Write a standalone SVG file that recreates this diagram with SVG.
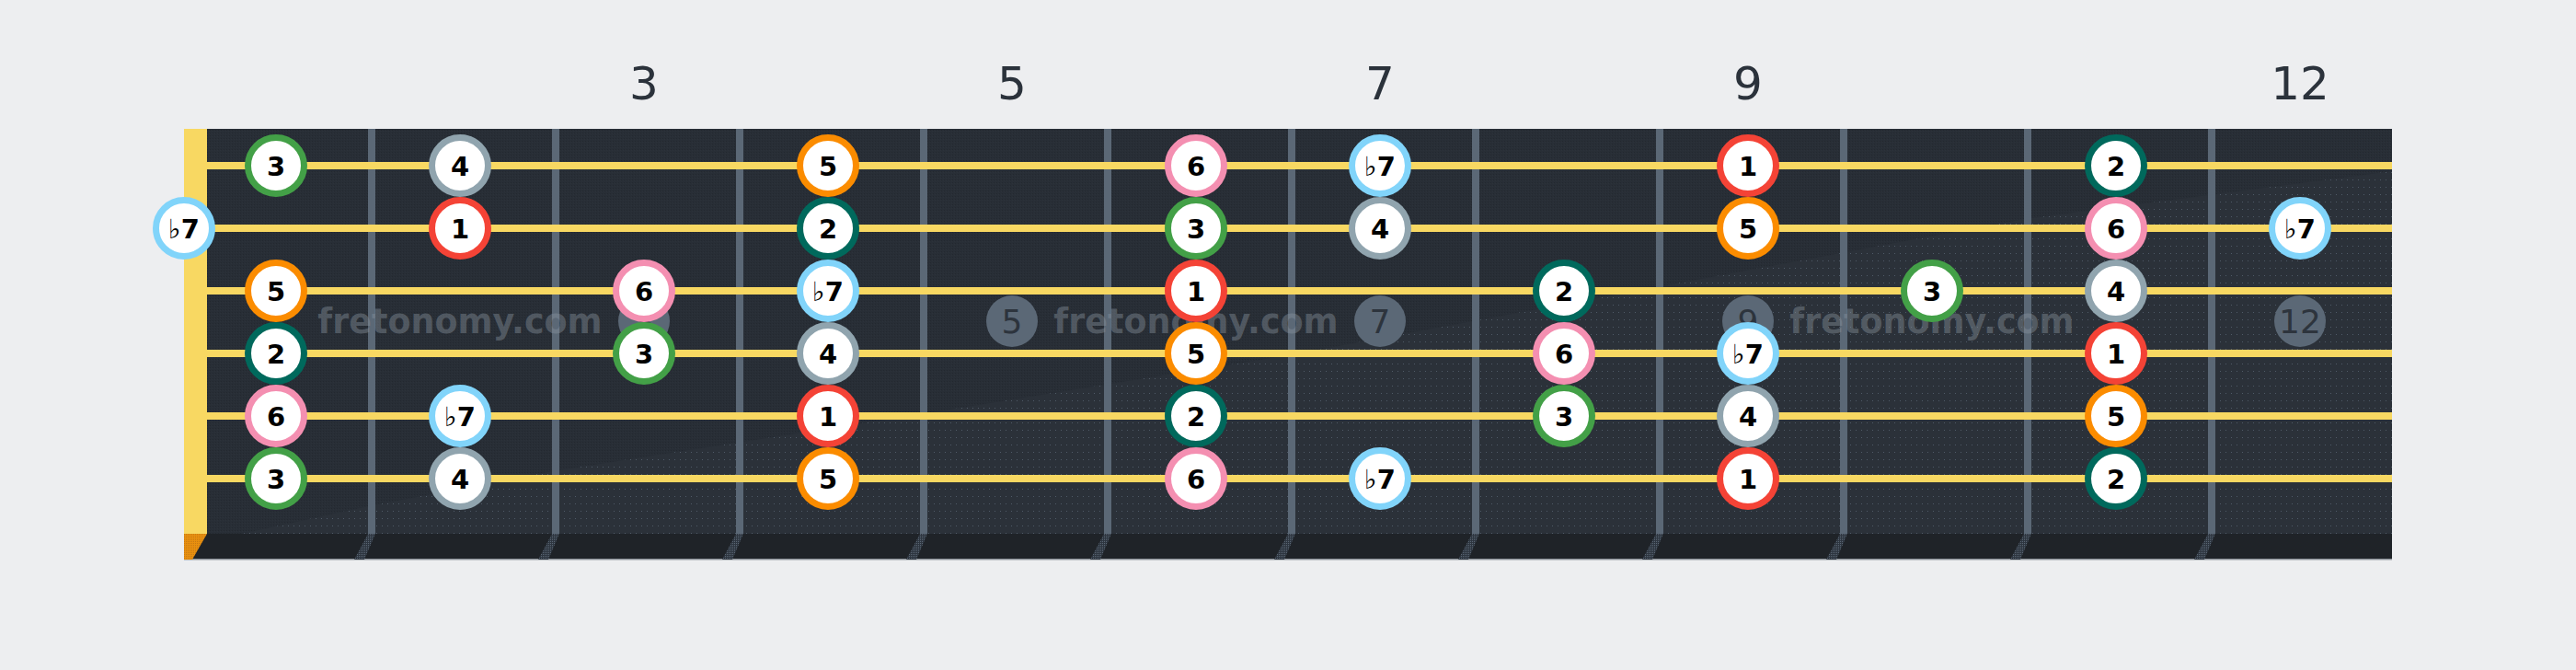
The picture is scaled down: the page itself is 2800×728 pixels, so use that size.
<svg xmlns="http://www.w3.org/2000/svg" width="2800" height="728" viewBox="0 0 2800 728">
<style>
.bg{fill:#edeef0}
.board{fill:#282e36}
.light{fill:#2b3139}
.fret{fill:#5b6876}
.str{fill:#f8d862}
.nut{fill:#f8d862}
.band{fill:#1f2328}
.fnum{font-family:"DejaVu Sans","Liberation Sans",sans-serif;font-size:50px;fill:#2b323b;text-anchor:middle}
.inlay{fill:#5b6876}
.inum{font-family:"DejaVu Sans","Liberation Sans",sans-serif;font-size:36px;fill:#2d343d;text-anchor:middle}
.wm{font-family:"DejaVu Sans","Liberation Sans",sans-serif;font-size:36.5px;font-weight:bold;fill:#8c96a0;fill-opacity:0.42;text-anchor:middle}
.n circle{fill:#ffffff;stroke-width:7}
.n text{font-family:"DejaVu Sans","Liberation Sans",sans-serif;font-size:29px;font-weight:bold;fill:#000;text-anchor:middle}
.n text tspan.fl{font-weight:normal}
.i1 circle{stroke:#f44336}
.i2 circle{stroke:#00695c}
.i3 circle{stroke:#43a047}
.i4 circle{stroke:#90a4ae}
.i5 circle{stroke:#fb8c00}
.i6 circle{stroke:#f48fb1}
.i7 circle{stroke:#81d4fa}
</style>
<defs>
<pattern id="dense" width="3" height="3" patternUnits="userSpaceOnUse"><rect x="0" y="0" width="1" height="1" fill="#1c2026"/><rect x="2" y="1" width="1" height="1" fill="#30363e"/></pattern>
<pattern id="sparse" width="6" height="8" patternUnits="userSpaceOnUse"><rect x="1" y="3" width="1" height="1" fill="#4f5a67"/></pattern>
<pattern id="slantdots" width="2" height="2" patternUnits="userSpaceOnUse"><rect width="2" height="2" fill="#2e3640"/><rect width="1" height="1" fill="#5a6674"/></pattern>
<pattern id="orangedots" width="2" height="2" patternUnits="userSpaceOnUse"><rect width="2" height="2" fill="#e8900f"/><rect width="1" height="1" fill="#c97a12"/></pattern>
</defs>
<rect class="bg" x="0" y="0" width="2800" height="728"/>
<g id="fretboard">
<rect class="board" x="200" y="140" width="2400" height="440"/>
<rect x="200" y="140" width="2400" height="440" fill="url(#dense)" opacity="0.45"/>
<path class="light" d="M225,588 L400,550 L600,512 L1000,450 L1200,418 L1400,386 L1800,312 L2200,238 L2600,186 L2600,580 L225,580 Z"/>
<path fill="url(#sparse)" d="M225,588 L400,550 L600,512 L1000,450 L1200,418 L1400,386 L1800,312 L2200,238 L2600,186 L2600,580 L225,580 Z"/>
<rect class="band" x="200" y="580" width="2400" height="28"/>
<rect x="200" y="607" width="2400" height="1.5" fill="#8f959c"/>
<polygon fill="url(#orangedots)" points="200,580 225,580 209,608 200,608"/>
<rect class="nut" x="200" y="140" width="25" height="440"/>
</g>
<g id="fret-numbers">
<text class="fnum" x="700" y="108">3</text>
<text class="fnum" x="1100" y="108">5</text>
<text class="fnum" x="1500" y="108">7</text>
<text class="fnum" x="1900" y="108">9</text>
<text class="fnum" x="2500" y="108">12</text>
</g>
<g id="inlays">
<circle class="inlay" cx="700" cy="349" r="28"/>
<text class="inum" x="700" y="362">3</text>
<circle class="inlay" cx="1100" cy="349" r="28"/>
<text class="inum" x="1100" y="362">5</text>
<circle class="inlay" cx="1500" cy="349" r="28"/>
<text class="inum" x="1500" y="362">7</text>
<circle class="inlay" cx="1900" cy="349" r="28"/>
<text class="inum" x="1900" y="362">9</text>
<circle class="inlay" cx="2500" cy="349" r="28"/>
<text class="inum" x="2500" y="362">12</text>
</g>
<g id="frets">
<rect class="fret" x="400" y="140" width="8" height="440"/>
<rect class="fret" x="600" y="140" width="8" height="440"/>
<rect class="fret" x="800" y="140" width="8" height="440"/>
<rect class="fret" x="1000" y="140" width="8" height="440"/>
<rect class="fret" x="1200" y="140" width="8" height="440"/>
<rect class="fret" x="1400" y="140" width="8" height="440"/>
<rect class="fret" x="1600" y="140" width="8" height="440"/>
<rect class="fret" x="1800" y="140" width="8" height="440"/>
<rect class="fret" x="2000" y="140" width="8" height="440"/>
<rect class="fret" x="2200" y="140" width="8" height="440"/>
<rect class="fret" x="2400" y="140" width="8" height="440"/>
<polygon fill="url(#slantdots)" points="400,580 408,580 396,608 385,608"/>
<polygon fill="url(#slantdots)" points="600,580 608,580 596,608 585,608"/>
<polygon fill="url(#slantdots)" points="800,580 808,580 796,608 785,608"/>
<polygon fill="url(#slantdots)" points="1000,580 1008,580 996,608 985,608"/>
<polygon fill="url(#slantdots)" points="1200,580 1208,580 1196,608 1185,608"/>
<polygon fill="url(#slantdots)" points="1400,580 1408,580 1396,608 1385,608"/>
<polygon fill="url(#slantdots)" points="1600,580 1608,580 1596,608 1585,608"/>
<polygon fill="url(#slantdots)" points="1800,580 1808,580 1796,608 1785,608"/>
<polygon fill="url(#slantdots)" points="2000,580 2008,580 1996,608 1985,608"/>
<polygon fill="url(#slantdots)" points="2200,580 2208,580 2196,608 2185,608"/>
<polygon fill="url(#slantdots)" points="2400,580 2408,580 2396,608 2385,608"/>
</g>
<g id="watermarks">
<text class="wm" x="500" y="362">fretonomy.com</text>
<text class="wm" x="1300" y="362">fretonomy.com</text>
<text class="wm" x="2100" y="362">fretonomy.com</text>
</g>
<g id="strings">
<rect class="str" x="225" y="176" width="2375" height="8"/>
<rect class="str" x="225" y="244" width="2375" height="8"/>
<rect class="str" x="225" y="312" width="2375" height="8"/>
<rect class="str" x="225" y="380" width="2375" height="8"/>
<rect class="str" x="225" y="448" width="2375" height="8"/>
<rect class="str" x="225" y="516" width="2375" height="8"/>
</g>
<g id="notes">
<g id="s1f1" class="n i3"><circle cx="300" cy="180" r="30.5"/><text x="300" y="190.5">3</text></g>
<g id="s1f2" class="n i4"><circle cx="500" cy="180" r="30.5"/><text x="500" y="190.5">4</text></g>
<g id="s1f4" class="n i5"><circle cx="900" cy="180" r="30.5"/><text x="900" y="190.5">5</text></g>
<g id="s1f6" class="n i6"><circle cx="1300" cy="180" r="30.5"/><text x="1300" y="190.5">6</text></g>
<g id="s1f7" class="n i7"><circle cx="1500" cy="180" r="30.5"/><text x="1500" y="190.5"><tspan class="fl">♭</tspan>7</text></g>
<g id="s1f9" class="n i1"><circle cx="1900" cy="180" r="30.5"/><text x="1900" y="190.5">1</text></g>
<g id="s1f11" class="n i2"><circle cx="2300" cy="180" r="30.5"/><text x="2300" y="190.5">2</text></g>

<g id="s2f0" class="n i7"><circle cx="200" cy="248" r="30.5"/><text x="200" y="258.5"><tspan class="fl">♭</tspan>7</text></g>
<g id="s2f2" class="n i1"><circle cx="500" cy="248" r="30.5"/><text x="500" y="258.5">1</text></g>
<g id="s2f4" class="n i2"><circle cx="900" cy="248" r="30.5"/><text x="900" y="258.5">2</text></g>
<g id="s2f6" class="n i3"><circle cx="1300" cy="248" r="30.5"/><text x="1300" y="258.5">3</text></g>
<g id="s2f7" class="n i4"><circle cx="1500" cy="248" r="30.5"/><text x="1500" y="258.5">4</text></g>
<g id="s2f9" class="n i5"><circle cx="1900" cy="248" r="30.5"/><text x="1900" y="258.5">5</text></g>
<g id="s2f11" class="n i6"><circle cx="2300" cy="248" r="30.5"/><text x="2300" y="258.5">6</text></g>
<g id="s2f12" class="n i7"><circle cx="2500" cy="248" r="30.5"/><text x="2500" y="258.5"><tspan class="fl">♭</tspan>7</text></g>

<g id="s3f1" class="n i5"><circle cx="300" cy="316" r="30.5"/><text x="300" y="326.5">5</text></g>
<g id="s3f3" class="n i6"><circle cx="700" cy="316" r="30.5"/><text x="700" y="326.5">6</text></g>
<g id="s3f4" class="n i7"><circle cx="900" cy="316" r="30.5"/><text x="900" y="326.5"><tspan class="fl">♭</tspan>7</text></g>
<g id="s3f6" class="n i1"><circle cx="1300" cy="316" r="30.5"/><text x="1300" y="326.5">1</text></g>
<g id="s3f8" class="n i2"><circle cx="1700" cy="316" r="30.5"/><text x="1700" y="326.5">2</text></g>
<g id="s3f10" class="n i3"><circle cx="2100" cy="316" r="30.5"/><text x="2100" y="326.5">3</text></g>
<g id="s3f11" class="n i4"><circle cx="2300" cy="316" r="30.5"/><text x="2300" y="326.5">4</text></g>

<g id="s4f1" class="n i2"><circle cx="300" cy="384" r="30.5"/><text x="300" y="394.5">2</text></g>
<g id="s4f3" class="n i3"><circle cx="700" cy="384" r="30.5"/><text x="700" y="394.5">3</text></g>
<g id="s4f4" class="n i4"><circle cx="900" cy="384" r="30.5"/><text x="900" y="394.5">4</text></g>
<g id="s4f6" class="n i5"><circle cx="1300" cy="384" r="30.5"/><text x="1300" y="394.5">5</text></g>
<g id="s4f8" class="n i6"><circle cx="1700" cy="384" r="30.5"/><text x="1700" y="394.5">6</text></g>
<g id="s4f9" class="n i7"><circle cx="1900" cy="384" r="30.5"/><text x="1900" y="394.5"><tspan class="fl">♭</tspan>7</text></g>
<g id="s4f11" class="n i1"><circle cx="2300" cy="384" r="30.5"/><text x="2300" y="394.5">1</text></g>

<g id="s5f1" class="n i6"><circle cx="300" cy="452" r="30.5"/><text x="300" y="462.5">6</text></g>
<g id="s5f2" class="n i7"><circle cx="500" cy="452" r="30.5"/><text x="500" y="462.5"><tspan class="fl">♭</tspan>7</text></g>
<g id="s5f4" class="n i1"><circle cx="900" cy="452" r="30.5"/><text x="900" y="462.5">1</text></g>
<g id="s5f6" class="n i2"><circle cx="1300" cy="452" r="30.5"/><text x="1300" y="462.5">2</text></g>
<g id="s5f8" class="n i3"><circle cx="1700" cy="452" r="30.5"/><text x="1700" y="462.5">3</text></g>
<g id="s5f9" class="n i4"><circle cx="1900" cy="452" r="30.5"/><text x="1900" y="462.5">4</text></g>
<g id="s5f11" class="n i5"><circle cx="2300" cy="452" r="30.5"/><text x="2300" y="462.5">5</text></g>

<g id="s6f1" class="n i3"><circle cx="300" cy="520" r="30.5"/><text x="300" y="530.5">3</text></g>
<g id="s6f2" class="n i4"><circle cx="500" cy="520" r="30.5"/><text x="500" y="530.5">4</text></g>
<g id="s6f4" class="n i5"><circle cx="900" cy="520" r="30.5"/><text x="900" y="530.5">5</text></g>
<g id="s6f6" class="n i6"><circle cx="1300" cy="520" r="30.5"/><text x="1300" y="530.5">6</text></g>
<g id="s6f7" class="n i7"><circle cx="1500" cy="520" r="30.5"/><text x="1500" y="530.5"><tspan class="fl">♭</tspan>7</text></g>
<g id="s6f9" class="n i1"><circle cx="1900" cy="520" r="30.5"/><text x="1900" y="530.5">1</text></g>
<g id="s6f11" class="n i2"><circle cx="2300" cy="520" r="30.5"/><text x="2300" y="530.5">2</text></g>
</g>
</svg>
